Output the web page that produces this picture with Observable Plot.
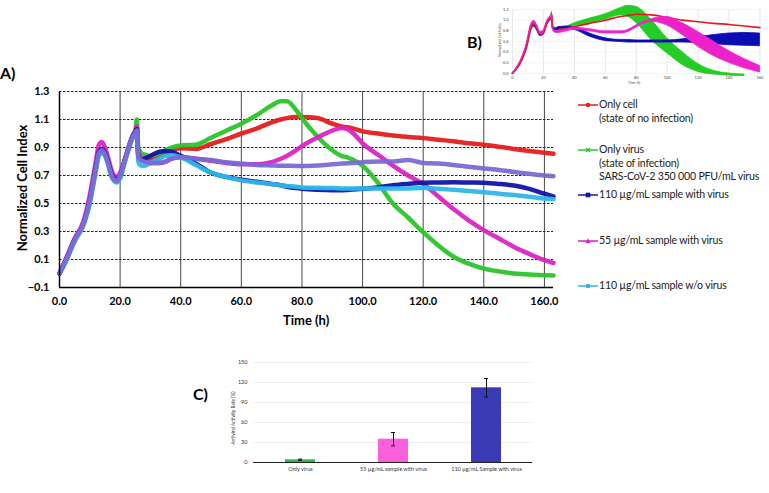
<!DOCTYPE html>
<html><head><meta charset="utf-8">
<script src="https://cdn.jsdelivr.net/npm/d3@7"></script>
<script src="https://cdn.jsdelivr.net/npm/@observablehq/plot@0.6"></script>
<style>
body{margin:0;background:#fff;width:769px;height:493px;overflow:hidden;position:relative;font-family:Lato,"Open Sans",sans-serif;color:#222;}
.abs{position:absolute;}
.plab{position:absolute;font-family:Lato,sans-serif;font-weight:bold;font-size:16px;color:#000;line-height:1;}
.leg{position:absolute;left:578px;font-size:10.6px;letter-spacing:-0.2px;line-height:13.5px;white-space:nowrap;}
.leg svg{vertical-align:middle;margin-right:1px;}
.leg .sub{padding-left:21px;display:block;}
.ttl{position:absolute;font-weight:bold;white-space:nowrap;color:#000;}
</style></head><body>
<div id="A" class="abs" style="left:0;top:60px"></div>
<div id="B" class="abs" style="left:490px;top:0"></div>
<div id="C" class="abs" style="left:200px;top:350px"></div>
<script>
// ---------- Panel A data ----------
const T = [0,2,5,8,10,12,13,14,15,16,17,18,19,20,22,24,25,25.5,26,27,28,30,33,35,37,40,45,50,55,60,65,70,73,75,78,80,85,90,93,95,97,100,105,110,115,120,125,130,135,140,145,150,155,160,163];
const onlyCell = [0.00,0.09,0.24,0.36,0.52,0.76,0.87,0.89,0.86,0.80,0.72,0.68,0.67,0.70,0.84,0.97,1.01,1.04,0.86,
  0.83,0.82,0.81,0.83,0.86,0.88,0.895,0.89,0.925,0.96,1.0,1.035,1.08,1.10,1.11,1.117,1.117,1.11,1.07,1.05,
  1.045,1.035,1.015,1.0,0.985,0.975,0.967,0.955,0.945,0.93,0.92,0.905,0.89,0.875,0.862,0.855];
const onlyVirus = [0.00,0.09,0.24,0.36,0.52,0.76,0.87,0.89,0.86,0.80,0.72,0.68,0.67,0.70,0.84,0.97,1.01,1.10,0.90,
  0.86,0.85,0.84,0.86,0.88,0.90,0.915,0.92,0.97,1.02,1.07,1.13,1.20,1.23,1.23,1.17,1.11,0.98,0.88,0.84,
  0.83,0.81,0.77,0.65,0.50,0.40,0.295,0.20,0.12,0.07,0.035,0.015,0.0,-0.008,-0.012,-0.015];
const s110v = [0.00,0.09,0.24,0.36,0.52,0.76,0.87,0.89,0.86,0.80,0.72,0.68,0.67,0.70,0.84,0.97,1.01,1.03,0.84,
  0.81,0.82,0.84,0.87,0.875,0.87,0.84,0.785,0.72,0.69,0.67,0.655,0.64,0.63,0.62,0.61,0.605,0.598,0.595,0.595,
  0.597,0.60,0.605,0.615,0.63,0.64,0.648,0.65,0.652,0.65,0.648,0.64,0.628,0.605,0.57,0.55];
const s55v = [0.00,0.10,0.25,0.38,0.56,0.80,0.92,0.94,0.90,0.83,0.75,0.70,0.69,0.72,0.85,0.98,1.02,1.05,0.86,
  0.82,0.80,0.79,0.79,0.80,0.82,0.83,0.82,0.805,0.79,0.78,0.78,0.795,0.82,0.84,0.88,0.91,0.97,1.02,1.04,
  1.03,1.0,0.93,0.85,0.77,0.70,0.64,0.55,0.46,0.38,0.31,0.25,0.19,0.14,0.095,0.075];
const s110wo = [0.00,0.08,0.23,0.35,0.50,0.73,0.84,0.86,0.84,0.78,0.70,0.66,0.65,0.68,0.83,0.96,1.0,1.02,0.80,
  0.77,0.77,0.79,0.82,0.84,0.845,0.83,0.775,0.72,0.69,0.665,0.65,0.64,0.63,0.625,0.62,0.615,0.612,0.61,0.608,
  0.607,0.607,0.607,0.607,0.607,0.608,0.61,0.605,0.598,0.59,0.58,0.57,0.56,0.548,0.535,0.53];
const purple = [0.00,0.09,0.24,0.36,0.52,0.75,0.86,0.88,0.85,0.79,0.71,0.67,0.66,0.70,0.84,0.97,1.0,1.02,0.83,
  0.81,0.80,0.79,0.79,0.80,0.82,0.83,0.82,0.81,0.795,0.785,0.775,0.772,0.77,0.77,0.768,0.768,0.772,0.78,0.785,
  0.788,0.79,0.795,0.80,0.80,0.81,0.79,0.785,0.775,0.762,0.75,0.74,0.725,0.712,0.70,0.695];
const keysA = ["Only cell","Only virus","55 µg/mL sample with virus","110 µg/mL sample with virus","110 µg/mL sample w/o virus","other"];
const colorsA = ["#e41e1e","#2bc42b","#d924c2","#1313a8","#2fb6ea","#7a6ad4"];
const seriesA = [onlyCell, onlyVirus, s55v, s110v, s110wo, purple];
const xTicksA = [0,20,40,60,80,100,120,140,160];
const yTicksA = [-0.1,0.1,0.3,0.5,0.7,0.9,1.1,1.3];

const rowsA = [];
seriesA.forEach((arr,i)=>arr.forEach((v,j)=>rowsA.push({t:T[j], v, s:keysA[i]})));

const plotA = Plot.plot({
  width:560, height:280, marginLeft:59, marginRight:7, marginTop:31, marginBottom:53,
  x:{domain:[0,163]}, y:{domain:[-0.1,1.3]},
  color:{domain:keysA, range:colorsA},
  style:{fontFamily:"Lato, sans-serif", fontWeight:"bold", fontSize:"11px", color:"#000", background:"transparent", overflow:"visible"},
  marks:[
    Plot.ruleY(yTicksA.slice(1), {stroke:"#222", strokeDasharray:"2.5,1.5", strokeWidth:1}),
    Plot.ruleX(xTicksA.slice(1), {stroke:"#333", strokeWidth:0.9}),
    Plot.lineY(rowsA, {x:"t", y:"v", z:"s", stroke:"s", strokeWidth:4.5, curve:"monotone-x", strokeOpacity:0.95}),
    Plot.ruleX([0], {stroke:"#000", strokeWidth:1.5}),
    Plot.ruleY([-0.1], {stroke:"#000", strokeWidth:1.5}),
    Plot.axisX({ticks:xTicksA, tickFormat:d3.format(".1f"), tickSize:0, tickPadding:10, label:null, fontWeight:"bold", fontSize:11}),
    Plot.axisY({ticks:yTicksA, tickFormat:d3.format(".1f"), tickSize:0, tickPadding:10, label:null, fontWeight:"bold", fontSize:11})
  ]
});
document.getElementById("A").append(plotA);

// ---------- Panel B data ----------
const tB = [0,3,6,9,12,14,16,18,20,22,24,25,25.5,26,28,30,35,40,50,60,70,75,80,90,100,110,120,130,140,150,160];
const redB = [0,0.1,0.25,0.48,0.85,0.93,0.84,0.74,0.76,0.92,1.02,1.05,1.10,0.86,0.80,0.82,0.84,0.88,0.94,1.0,1.07,1.09,1.11,1.10,1.05,1.0,0.97,0.94,0.92,0.89,0.86];
const greenLoB = [0,0.09,0.24,0.46,0.83,0.92,0.82,0.72,0.74,0.90,1.0,1.04,1.12,0.86,0.82,0.82,0.84,0.89,0.94,1.01,1.09,1.06,0.95,0.62,0.38,0.16,0.03,-0.02,-0.04,-0.05,null];
const greenHiB = [0,0.11,0.27,0.50,0.88,0.97,0.86,0.76,0.78,0.94,1.04,1.08,1.16,0.90,0.86,0.86,0.88,0.94,1.03,1.11,1.23,1.27,1.25,1.0,0.66,0.40,0.18,0.05,0.0,-0.02,null];
const blueLoB = [0,0.09,0.23,0.45,0.80,0.88,0.80,0.70,0.72,0.88,0.98,1.0,1.02,0.84,0.80,0.82,0.84,0.82,0.69,0.61,0.59,0.58,0.58,0.58,0.58,0.58,0.57,0.55,0.53,0.52,0.51];
const blueHiB = [0,0.11,0.26,0.49,0.85,0.92,0.84,0.74,0.76,0.92,1.02,1.04,1.06,0.88,0.84,0.87,0.88,0.87,0.75,0.66,0.63,0.63,0.62,0.62,0.62,0.64,0.68,0.72,0.75,0.76,0.75];
const magLoB = [0,0.1,0.26,0.50,0.87,0.95,0.86,0.74,0.76,0.92,1.02,1.04,1.08,0.82,0.76,0.76,0.79,0.82,0.79,0.75,0.75,0.78,0.86,0.97,0.90,0.72,0.50,0.33,0.20,0.10,0.02];
const magHiB = [0,0.12,0.29,0.54,0.92,0.99,0.90,0.78,0.80,0.96,1.06,1.08,1.12,0.86,0.80,0.80,0.83,0.86,0.83,0.79,0.79,0.82,0.90,1.02,1.06,0.94,0.78,0.60,0.42,0.27,0.14];
const keysB = ["Only virus (B)","110 µg/mL (B)","55 µg/mL (B)"];
const colorsB = ["#25cc25","#0c0cb4","#ee22cc"];
const xTicksB = [0,20,40,60,80,100,120,140,160];
const yTicksB = [0,0.2,0.4,0.6,0.8,1.0,1.2];
const bands = [[greenLoB,greenHiB],[blueLoB,blueHiB],[magLoB,magHiB]];
const rowsB = [];
bands.forEach(([lo,hi],i)=>tB.forEach((t,j)=>rowsB.push({t, lo:lo[j], hi:hi[j], s:keysB[i]})));
const redRowsB = tB.map((t,j)=>({t, v:redB[j]}));

const plotB = Plot.plot({
  width:275, height:90, marginLeft:22, marginRight:4, marginTop:9, marginBottom:17,
  x:{domain:[0,161]}, y:{domain:[0,1.2]},
  color:{domain:keysB, range:colorsB},
  style:{fontFamily:"Lato, sans-serif", fontSize:"4px", color:"#444", background:"transparent", overflow:"visible"},
  marks:[
    Plot.ruleX(xTicksB, {stroke:"#dcdcdc", strokeWidth:0.7}),
    Plot.ruleY(yTicksB, {stroke:"#ececec", strokeWidth:0.6}),
    Plot.areaY(rowsB.filter(d=>d.s===keysB[0]), {x:"t", y1:"lo", y2:"hi", fill:"s", curve:"monotone-x", stroke:"s", strokeWidth:0.8}),
    Plot.areaY(rowsB.filter(d=>d.s===keysB[1]), {x:"t", y1:"lo", y2:"hi", fill:"s", curve:"monotone-x", stroke:"s", strokeWidth:0.8}),
    Plot.lineY(redRowsB, {x:"t", y:"v", stroke:"#e8161e", strokeWidth:1.6, curve:"monotone-x"}),
    Plot.areaY(rowsB.filter(d=>d.s===keysB[2]), {x:"t", y1:"lo", y2:"hi", fill:"s", curve:"monotone-x", stroke:"s", strokeWidth:0.8}),
    Plot.axisX({ticks:xTicksB, tickFormat:d3.format("d"), tickSize:0, tickPadding:3, label:null, fontSize:4}),
    Plot.axisY({ticks:yTicksB, tickFormat:d3.format(".1f"), tickSize:0, tickPadding:4, label:null, fontSize:4})
  ]
});
document.getElementById("B").append(plotB);

// ---------- Panel C data ----------
const cCats = ["Only virus","55 µg/mL sample with virus","110 µg/mL Sample with virus"];
const cVals = [4, 35, 112];
const cErr = [1, 10, 14];
const cColors = ["#30b54a","#fb60dc","#3a3ab6"];
const yTicksC = [0,30,60,90,120,150];
const rowsC = cCats.map((c,i)=>({c, v:cVals[i], lo:cVals[i]-cErr[i], hi:cVals[i]+cErr[i]}));

const plotC = Plot.plot({
  width:345, height:130, marginLeft:53, marginRight:13, marginTop:12, marginBottom:18,
  x:{domain:cCats, paddingInner:0.68, paddingOuter:0.34},
  y:{domain:[0,150]},
  color:{domain:cCats, range:cColors},
  style:{fontFamily:"Lato, sans-serif", fontSize:"5.5px", color:"#333", background:"transparent", overflow:"visible"},
  marks:[
    Plot.ruleY(yTicksC.slice(1), {stroke:"#ececec", strokeWidth:0.8}),
    Plot.barY(rowsC, {x:"c", y:"v", fill:"c"}),
    Plot.ruleX(rowsC, {x:"c", y1:"lo", y2:"hi", stroke:"#111", strokeWidth:1}),
    Plot.tickY(rowsC, {x:"c", y:"lo", stroke:"#111", strokeWidth:1, insetLeft:13, insetRight:13}),
    Plot.tickY(rowsC, {x:"c", y:"hi", stroke:"#111", strokeWidth:1, insetLeft:13, insetRight:13}),
    Plot.ruleY([0], {stroke:"#222", strokeWidth:1}),
    Plot.axisX({tickSize:0, tickPadding:5, label:null, fontSize:5.5}),
    Plot.axisY({ticks:yTicksC, tickSize:0, tickPadding:6, label:null, fontSize:5.5})
  ]
});
document.getElementById("C").append(plotC);
</script>

<!-- Panel labels & titles -->
<div class="plab" style="left:0;top:65px">A)</div>
<div class="plab" style="left:467px;top:34px">B)</div>
<div class="plab" style="left:193px;top:386px">C)</div>

<div class="ttl" style="left:283px;top:312px;font-size:13px">Time (h)</div>
<div class="ttl" style="left:22px;top:188px;font-size:13px;transform:translate(-50%,-50%) rotate(-90deg)">Normalized Cell Index</div>

<div class="ttl" style="left:628px;top:81px;font-size:3.5px;font-weight:normal;color:#444">Time (h)</div>
<div class="ttl" style="left:500px;top:40px;font-size:3.5px;font-weight:normal;color:#444;transform:translate(-50%,-50%) rotate(-90deg)">Normalized Cell Index</div>

<div class="ttl" style="left:233px;top:418px;font-size:4.8px;font-weight:normal;color:#333;transform:translate(-50%,-50%) rotate(-90deg)">Antiviral Activity Rate (%)</div>

<!-- Legend for panel A -->
<div class="leg" style="top:98px"><svg width="20" height="10"><line x1="0" y1="5" x2="20" y2="5" stroke="#e41e1e" stroke-width="1.5"/><circle cx="10" cy="5" r="2.3" fill="#e41e1e"/></svg>Only cell<span class="sub">(state of no infection)</span></div>
<div class="leg" style="top:143px"><svg width="20" height="10"><line x1="0" y1="5" x2="20" y2="5" stroke="#2bc42b" stroke-width="1.5"/><path d="M8,3L12,7M12,3L8,7" stroke="#2bc42b" stroke-width="1.2"/></svg>Only virus<span class="sub">(state of infection)</span><span class="sub">SARS-CoV-2 350 000 PFU/mL virus</span></div>
<div class="leg" style="top:188px"><svg width="20" height="10"><line x1="0" y1="5" x2="20" y2="5" stroke="#1313a8" stroke-width="1.5"/><rect x="7.7" y="2.7" width="4.6" height="4.6" fill="#1313a8"/></svg>110 µg/mL sample with virus</div>
<div class="leg" style="top:234px"><svg width="20" height="10"><line x1="0" y1="5" x2="20" y2="5" stroke="#d924c2" stroke-width="1.5"/><path d="M10,2.3L12.6,7.2L7.4,7.2Z" fill="#d924c2"/></svg>55 µg/mL sample with virus</div>
<div class="leg" style="top:279px"><svg width="20" height="10"><line x1="0" y1="5" x2="20" y2="5" stroke="#2fb6ea" stroke-width="1.5"/><circle cx="10" cy="5" r="2.3" fill="#2fb6ea"/></svg>110 µg/mL sample w/o virus</div>
</body></html>
